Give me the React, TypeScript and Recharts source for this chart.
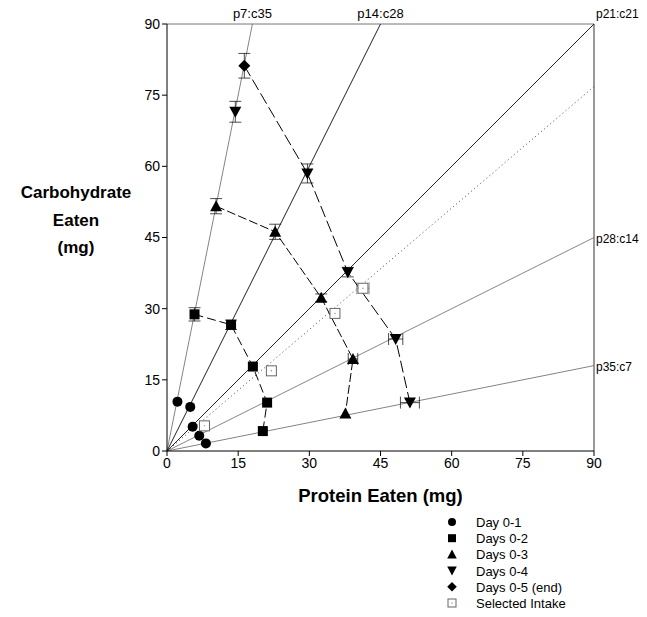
import React from 'react';
import { ScatterChart, Scatter, XAxis, YAxis, ReferenceLine, ErrorBar } from 'recharts';

// Rails: label and end point of each rail from the origin
const railLabels = ['p7:c35', 'p14:c28', 'p21:c21', 'p28:c14', 'p35:c7'];
const railEndP = [18, 45, 90, 90, 90];
const railEndC = [90, 90, 90, 45, 18];
const dottedEnd = { p: 90, c: 76.8 };

const ticks = [0, 15, 30, 45, 60, 75, 90];

const day01 = [
  { p: 2.2, c: 10.4 },
  { p: 4.9, c: 9.3 },
  { p: 5.4, c: 5.1 },
  { p: 6.8, c: 3.2 },
  { p: 8.2, c: 1.6 },
];
const day02 = [
  { p: 5.8, c: 28.8, ey: 1.4 },
  { p: 13.5, c: 26.6, ey: 1.0 },
  { p: 18.1, c: 17.8 },
  { p: 21.1, c: 10.2 },
  { p: 20.2, c: 4.2 },
];
const day03 = [
  { p: 10.35, c: 51.6, ey: 1.6 },
  { p: 22.8, c: 46.2, ey: 1.6 },
  { p: 32.5, c: 32.3, ey: 0.8 },
  { p: 39.2, c: 19.4, ex: 1.0 },
  { p: 37.6, c: 7.9 },
];
const day04 = [
  { p: 14.4, c: 71.5, ey: 2.2 },
  { p: 29.6, c: 58.5, ey: 2.0 },
  { p: 38.1, c: 37.7, ey: 1.0 },
  { p: 48.2, c: 23.6, ex: 1.5 },
  { p: 51.2, c: 10.2, ex: 2.0 },
];
const day05 = [{ p: 16.3, c: 81.2, ey: 2.6 }];
const selected = [
  { p: 7.9, c: 5.3 },
  { p: 22.0, c: 16.9 },
  { p: 35.4, c: 29.0 },
  { p: 41.3, c: 34.3, ex: 1.3 },
];
const day04Path = [day05[0], ...day04.slice(1)];

const legendNames = ['Day 0-1', 'Days 0-2', 'Days 0-3', 'Days 0-4', 'Days 0-5 (end)', 'Selected Intake'];
const legendKinds = ['circle', 'square', 'up', 'down', 'diamond', 'open'];

const FONT = 'Liberation Sans, Arial, Helvetica, sans-serif';

function marker(kind: string, cx: number, cy: number, s = 1) {
  switch (kind) {
    case 'circle':
      return <circle cx={cx} cy={cy} r={5 * s} fill="#000" />;
    case 'square':
      return <rect x={cx - 5 * s} y={cy - 5 * s} width={10 * s} height={10 * s} fill="#000" />;
    case 'up':
      return <polygon points={`${cx},${cy - 6 * s} ${cx - 6 * s},${cy + 5 * s} ${cx + 6 * s},${cy + 5 * s}`} fill="#000" />;
    case 'down':
      return <polygon points={`${cx - 6 * s},${cy - 5 * s} ${cx + 6 * s},${cy - 5 * s} ${cx},${cy + 6 * s}`} fill="#000" />;
    case 'diamond':
      return <polygon points={`${cx},${cy - 6 * s} ${cx + 6 * s},${cy} ${cx},${cy + 6 * s} ${cx - 6 * s},${cy}`} fill="#000" />;
    default:
      return (
        <g>
          <rect x={cx - 5 * s} y={cy - 5 * s} width={10 * s} height={10 * s} fill="#fff" stroke="#666" strokeWidth={1} />
          <circle cx={cx} cy={cy} r={0.7} fill="#888" />
        </g>
      );
  }
}

const shapeOf = (kind: string) => (props: any) => marker(kind, props.cx, props.cy);
const noShape = () => <g />;

const railLabel = (text: string, endP: number, endC: number) => (props: any) => {
  const vb = props.viewBox || {};
  const x2 = vb.x + vb.width;
  const y2 = vb.y;
  if (endC >= 90 && endP < 90) {
    return (
      <text x={x2} y={y2 - 6} textAnchor="middle" fontSize={13} fontFamily={FONT} fill="#000">
        {text}
      </text>
    );
  }
  if (endC >= 90) {
    return (
      <text x={x2 + 2} y={y2 - 6} textAnchor="start" fontSize={12} fontFamily={FONT} fill="#000">
        {text}
      </text>
    );
  }
  return (
    <text x={x2 + 2} y={y2 + 5} textAnchor="start" fontSize={12} fontFamily={FONT} fill="#000">
      {text}
    </text>
  );
};

const YLabel = (props: any) => {
  const vb = props.viewBox || { x: 127, y: 24, width: 40, height: 427 };
  const cx = vb.x - 51;
  const mid = vb.y + vb.height / 2;
  return (
    <text textAnchor="middle" fontSize={17} fontWeight="bold" fontFamily={FONT} fill="#000">
      <tspan x={cx} y={mid - 40}>Carbohydrate</tspan>
      <tspan x={cx} y={mid - 12}>Eaten</tspan>
      <tspan x={cx} y={mid + 15}>(mg)</tspan>
    </text>
  );
};

const XLabel = (props: any) => {
  const vb = props.viewBox || { x: 167, y: 451, width: 427, height: 30 };
  return (
    <text x={vb.x + vb.width / 2} y={vb.y + 51} textAnchor="middle" fontSize={18.5} fontWeight="bold" fontFamily={FONT} fill="#000">
      Protein Eaten (mg)
    </text>
  );
};

const LegendBox = () => (
  <svg width={200} height={100} style={{ overflow: 'visible', display: 'block' }}>
    {legendNames.map((name, i) => (
      <g key={name}>
        {marker(legendKinds[i], 8, 6 + i * 16.2, 0.8)}
        <text x={32} y={11 + i * 16.2} fontSize={13} fontFamily={FONT} fill="#000">
          {name}
        </text>
      </g>
    ))}
  </svg>
);

export default function App() {
  return (
    <div style={{ position: 'relative', width: 647, height: 617, margin: '-8px 0 0 -8px' }}>
      <ScatterChart width={647} height={617} margin={{ top: 24, right: 53, bottom: 136, left: 127 }}>
        <XAxis
          type="number"
          dataKey="p"
          domain={[0, 90]}
          ticks={ticks}
          allowDataOverflow
          stroke="#000"
          tickSize={5}
          height={30}
          tick={{ fontSize: 14, fontFamily: FONT, fill: '#000' }}
          label={<XLabel />}
        />
        <YAxis
          type="number"
          dataKey="c"
          domain={[0, 90]}
          ticks={ticks}
          allowDataOverflow
          stroke="#000"
          tickSize={5}
          width={40}
          tick={{ fontSize: 14, fontFamily: FONT, fill: '#000' }}
          label={<YLabel />}
        />
        <ReferenceLine y={90} stroke="#777" strokeWidth={1} />
        <ReferenceLine x={90} stroke="#777" strokeWidth={1.5} />
        {railLabels.map((lab, i) => (
          <ReferenceLine
            key={lab}
            segment={[{ x: 0, y: 0 }, { x: railEndP[i], y: railEndC[i] }]}
            stroke={i === 1 || i === 2 ? '#222' : '#666'}
            strokeWidth={i === 1 || i === 2 ? 1 : 0.8}
            label={railLabel(lab, railEndP[i], railEndC[i])}
          />
        ))}
        <ReferenceLine
          segment={[{ x: 0, y: 0 }, { x: dottedEnd.p, y: dottedEnd.c }]}
          stroke="#444"
          strokeWidth={1}
          strokeDasharray="1 3"
        />
        <Scatter
          data={day02}
          isAnimationActive={false}
          line={{ stroke: '#000', strokeWidth: 1, strokeDasharray: '9 4' }}
          shape={shapeOf('square')}
        >
          <ErrorBar dataKey="ey" direction="y" width={6} stroke="#000" strokeWidth={0.7} />
        </Scatter>
        <Scatter
          data={day03}
          isAnimationActive={false}
          line={{ stroke: '#000', strokeWidth: 1, strokeDasharray: '9 3' }}
          shape={shapeOf('up')}
        >
          <ErrorBar dataKey="ey" direction="y" width={6} stroke="#000" strokeWidth={0.7} />
          <ErrorBar dataKey="ex" direction="x" width={6} stroke="#000" strokeWidth={0.7} />
        </Scatter>
        <Scatter
          data={day04Path}
          isAnimationActive={false}
          line={{ stroke: '#000', strokeWidth: 1, strokeDasharray: '12 4' }}
          shape={noShape}
        />
        <Scatter data={day04} isAnimationActive={false} shape={shapeOf('down')}>
          <ErrorBar dataKey="ey" direction="y" width={6} stroke="#000" strokeWidth={0.7} />
          <ErrorBar dataKey="ex" direction="x" width={6} stroke="#000" strokeWidth={0.7} />
        </Scatter>
        <Scatter data={day05} isAnimationActive={false} shape={shapeOf('diamond')}>
          <ErrorBar dataKey="ey" direction="y" width={6} stroke="#000" strokeWidth={0.7} />
        </Scatter>
        <Scatter data={day01} isAnimationActive={false} shape={shapeOf('circle')} />
        <Scatter data={selected} isAnimationActive={false} shape={shapeOf('open')}>
          <ErrorBar dataKey="ex" direction="x" width={6} stroke="#666" strokeWidth={0.7} />
        </Scatter>
      </ScatterChart>
      <div style={{ position: 'absolute', left: 444, top: 516 }}>
        <LegendBox />
      </div>
    </div>
  );
}
